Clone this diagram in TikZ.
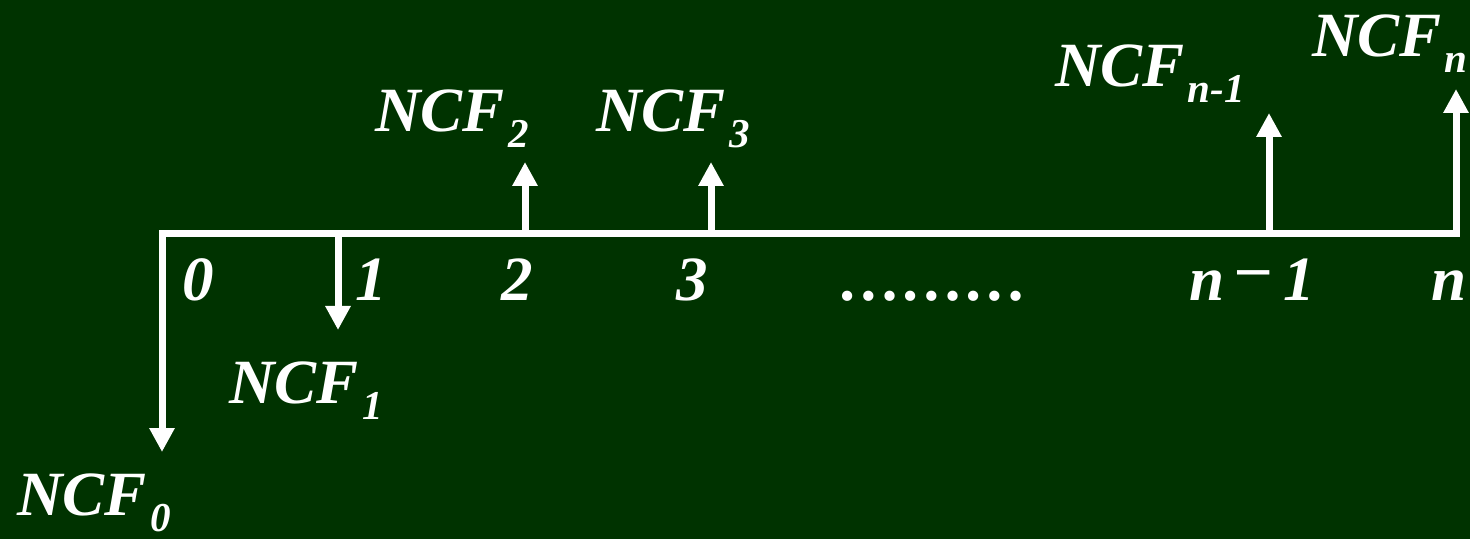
\documentclass[tikz,border=0pt]{standalone}
\usepackage{fontspec}
\setmainfont{Liberation Serif}
\usepackage{tikz}
\usetikzlibrary{arrows.meta}
\definecolor{board}{RGB}{0,51,0}
\newcommand\ncfsub[1]{\kern1.5pt\raisebox{-8pt}{\fontsize{20.5}{24}\selectfont #1}}
\tikzset{
  flow/.style={draw=white,line width=3.5pt,-{Triangle[length=12pt,width=12pt]}},
  axisline/.style={draw=white,line width=3.5pt,line join=miter},
  lbl/.style={text=white,inner sep=0pt,anchor=base,
    font=\fontsize{31.5}{36}\selectfont\bfseries\itshape}
}
\begin{document}
\begin{tikzpicture}[x=0.5pt,y=-0.5pt]
      \fill[board] (0,0) rectangle (1470,539);
      \useasboundingbox (0,0) rectangle (1470,539);
      % points on the time line
      \coordinate (t0) at (162,234);
      \coordinate (t1) at (338,234);
      \coordinate (t2) at (525,234);
      \coordinate (t3) at (711,234);
      \coordinate (tm) at (1269,234);
      \coordinate (tn) at (1456,234);
      % arrow tips
      \coordinate (e0) at (162,452);
      \coordinate (e1) at (338,330);
      \coordinate (e2) at (525,162);
      \coordinate (e3) at (711,162);
      \coordinate (em) at (1269,113);
      \coordinate (en) at (1456,89);
      \draw[axisline,{Triangle[length=12pt,width=12pt]}-{Triangle[length=12pt,width=12pt]}]
        (e0) -- (t0) -- (tn) -- (en);
      \draw[flow] (t1) -- (e1);
      \draw[flow] (t2) -- (e2);
      \draw[flow] (t3) -- (e3);
      \draw[flow] (tm) -- (em);
      % period numbers
      \node[lbl] (p0) at (198,300) {0};
      \node[lbl] (p1) at (371,300) {1};
      \node[lbl] (p2) at (517,300) {2};
      \node[lbl] (p3) at (692,300) {3};
      \node[lbl] (dots) at (934,300) {………};
      \node[lbl] (pm) at (1252,300) {n\kern7pt\raisebox{0.2em}{–}\kern7pt1};
      \node[lbl] (pn) at (1449,300) {n};
      % cash flows
      \node[lbl] (c0) at (94,515) {NCF\ncfsub{0}};
      \node[lbl] (c1) at (306,403) {NCF\ncfsub{1}};
      \node[lbl] (c2) at (452,132) {NCF\ncfsub{2}};
      \node[lbl] (c3) at (673,132) {NCF\ncfsub{3}};
      \node[lbl] (cm) at (1150,87) {NCF\ncfsub{n-1}};
      \node[lbl] (cn) at (1390,57) {NCF\ncfsub{n}};
    \end{tikzpicture}
\end{document}
